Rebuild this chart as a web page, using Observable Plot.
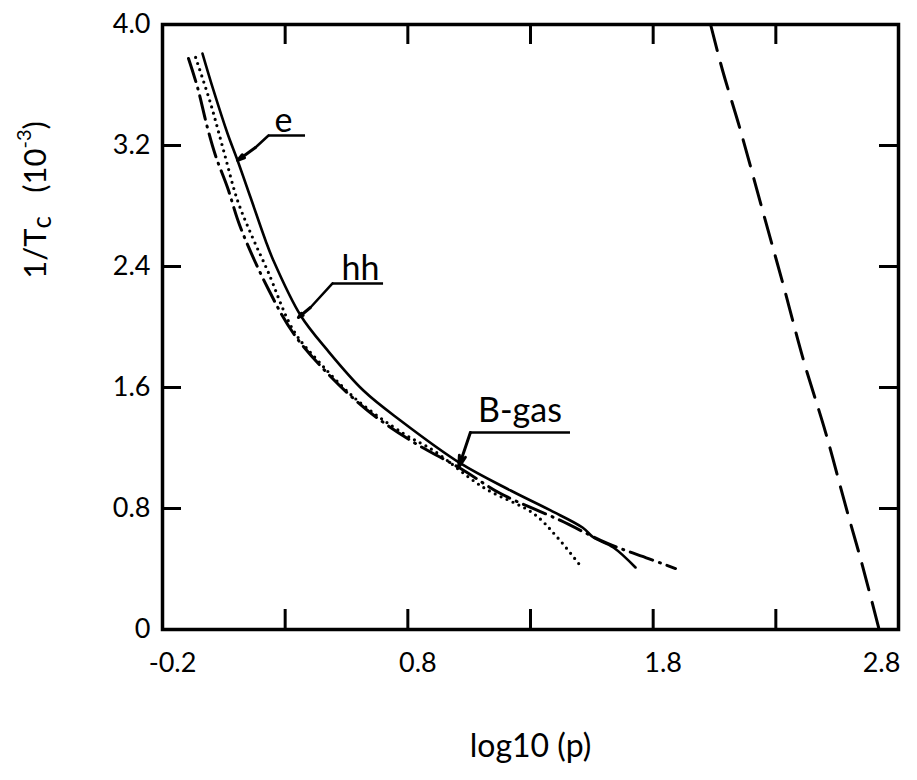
<!DOCTYPE html>
<html>
<head>
<meta charset="utf-8">
<script src="https://cdn.jsdelivr.net/npm/d3@7"></script>
<script src="https://cdn.jsdelivr.net/npm/@observablehq/plot@0.6"></script>
<style>
  html, body { margin: 0; padding: 0; background: #fff; }
  #chart svg { display: block; }
</style>
</head>
<body>
<div id="chart"></div>
<script>
// ---- data ----
// curve "e" (solid)
const eX = [-0.037, 0.008, 0.065, 0.106, 0.159, 0.220, 0.252, 0.363, 0.473, 0.619, 0.770, 1.015, 1.219, 1.382, 1.512, 1.557, 1.638, 1.728];
const eY = [3.808, 3.564, 3.279, 3.101, 2.856, 2.572, 2.440, 2.076, 1.845, 1.580, 1.382, 1.098, 0.919, 0.787, 0.674, 0.608, 0.542, 0.410];
// curve "hh" (dotted)
const hhX = [-0.065, -0.004, 0.049, 0.106, 0.167, 0.228, 0.334, 0.444, 0.595, 0.782, 0.905, 1.108, 1.312, 1.410, 1.512];
const hhY = [3.782, 3.478, 3.167, 2.836, 2.592, 2.374, 1.977, 1.759, 1.514, 1.296, 1.183, 0.939, 0.767, 0.608, 0.403];
// curve "B-gas" (dash-dot)
const bX = [-0.094, -0.057, -0.017, 0.016, 0.065, 0.118, 0.228, 0.334, 0.473, 0.636, 0.811, 1.015, 1.178, 1.422, 1.614, 1.781, 1.891];
const bY = [3.775, 3.583, 3.319, 3.134, 2.922, 2.658, 2.261, 1.957, 1.693, 1.448, 1.250, 1.064, 0.899, 0.721, 0.569, 0.469, 0.403];
// right long-dashed curve
const rX = [2.034, 2.083, 2.156, 2.246, 2.331, 2.413, 2.503, 2.584, 2.653, 2.719];
const rY = [4.000, 3.696, 3.299, 2.770, 2.274, 1.779, 1.302, 0.820, 0.423, 0.013];

// axes
const xDomain = [-0.2, 2.8];
const yDomain = [0, 4.0];
const xTickValues = [-0.2, 0.8, 1.8, 2.8];
const xTickLabels = ["-0.2", "0.8", "1.8", "2.8"];
const yTickValues = [0, 0.8, 1.6, 2.4, 3.2, 4.0];
const yTickLabels = ["0", "0.8", "1.6", "2.4", "3.2", "4.0"];
const xInnerTicks = [0.3, 0.8, 1.3, 1.8, 2.3];
const yInnerTicks = [0.8, 1.6, 2.4, 3.2];
const xTitle = "log10 (p)";

// annotations: label, text position, leader polyline (underline end -> elbow -> tip), underline
const annLabels = ["e", "hh", "B-gas"];
const annTextX = [0.293, 0.607, 1.257];
const annTextY = [3.36, 2.385, 1.445];
const annUnderX1 = [0.232, 0.493, 1.055];
const annUnderX2 = [0.383, 0.701, 1.463];
const annUnderY = [3.266, 2.288, 1.302];
const annElbowX = [0.179, 0.403, null];
const annElbowY = [3.187, 2.129, null];
const annTipX = [0.106, 0.354, 1.007];
const annTipY = [3.101, 2.063, 1.071];

// ---- build tables ----
const toPts = (xs, ys) => xs.map((x, i) => ({x, y: ys[i]}));
const ePts = toPts(eX, eY), hhPts = toPts(hhX, hhY), bPts = toPts(bX, bY), rPts = toPts(rX, rY);
const annText = annLabels.map((t, i) => ({t, x: annTextX[i], y: annTextY[i]}));
const underlines = annLabels.map((t, i) => ({x1: annUnderX1[i], x2: annUnderX2[i], y: annUnderY[i]}));
const leaders = annLabels.map((t, i) => {
  const pts = [{x: annUnderX1[i], y: annUnderY[i]}];
  if (annElbowX[i] != null) pts.push({x: annElbowX[i], y: annElbowY[i]});
  pts.push({x: annTipX[i], y: annTipY[i]});
  return pts;
});
const leaderBodies = leaders.map(p => p.slice(0, -1));
const leaderHeads = leaders.map(p => ({x1: p[p.length - 2].x, y1: p[p.length - 2].y, x2: p[p.length - 1].x, y2: p[p.length - 1].y}));
const xTickTable = xTickValues.map((v, i) => ({v, label: xTickLabels[i]}));

const W = 917, H = 780;
const mL = 162, mR = 19, mT = 24, mB = 151;
const kx = (W - mL - mR) / (xDomain[1] - xDomain[0]); // px per x unit
const ky = (H - mT - mB) / (yDomain[1] - yDomain[0]); // px per y unit
const tickLenX = 20 / ky, tickLenY = 19 / kx;

const font = "Lato, 'Open Sans', 'DejaVu Sans', sans-serif";

const plot = Plot.plot({
  width: W, height: H,
  marginLeft: mL, marginRight: mR, marginTop: mT, marginBottom: mB,
  style: {fontFamily: font, fontSize: "27px", color: "#000", background: "#fff", overflow: "visible"},
  x: {domain: xDomain, axis: null},
  y: {domain: yDomain, ticks: yTickValues, tickFormat: (d, i) => yTickLabels[i], tickSize: 0, tickPadding: 12, label: null},
  marks: [
    // inward ticks
    Plot.ruleX(xInnerTicks, {x: d => d, y1: 0, y2: tickLenX, stroke: "#000", strokeWidth: 3}),
    Plot.ruleX(xInnerTicks, {x: d => d, y1: 4.0, y2: 4.0 - tickLenX, stroke: "#000", strokeWidth: 3}),
    Plot.ruleY(yInnerTicks, {y: d => d, x1: xDomain[0], x2: xDomain[0] + tickLenY, stroke: "#000", strokeWidth: 3}),
    Plot.ruleY(yInnerTicks, {y: d => d, x1: xDomain[1], x2: xDomain[1] - tickLenY, stroke: "#000", strokeWidth: 3}),
    Plot.frame({stroke: "#000", strokeWidth: 3.5}),
    // x tick labels (through the x scale)
    Plot.text(xTickTable.slice(0, 3), {x: "v", text: "label", frameAnchor: "bottom", dy: 34, dx: 10, fontSize: 27, fill: "#000", lineAnchor: "middle"}),
    Plot.text(xTickTable.slice(3), {x: "v", text: "label", frameAnchor: "bottom", dy: 34, dx: -17, fontSize: 27, fill: "#000", lineAnchor: "middle"}),
    // curves
    Plot.line(bPts, {x: "x", y: "y", stroke: "#000", strokeWidth: 3, strokeDasharray: "24 7 1 7", strokeLinecap: "round", curve: "catmull-rom"}),
    Plot.line(hhPts, {x: "x", y: "y", stroke: "#000", strokeWidth: 3.2, strokeDasharray: "0 6.5", strokeLinecap: "round", curve: "catmull-rom"}),
    Plot.line(ePts, {x: "x", y: "y", stroke: "#000", strokeWidth: 2.6, curve: "catmull-rom"}),
    Plot.line(rPts, {x: "x", y: "y", stroke: "#000", strokeWidth: 3, strokeDasharray: "27 13", curve: "catmull-rom"}),
    // annotations
    Plot.ruleY(underlines, {x1: "x1", x2: "x2", y: "y", stroke: "#000", strokeWidth: 2.5}),
    ...leaderBodies.map(p => Plot.line(p, {x: "x", y: "y", stroke: "#000", strokeWidth: 2.5})),
    Plot.arrow(leaderHeads, {x1: "x1", y1: "y1", x2: "x2", y2: "y2", stroke: "#000", strokeWidth: 3, headLength: 14, headAngle: 30}),
    Plot.text(annText, {x: "x", y: "y", text: "t", fontSize: 34, fill: "#000", textAnchor: "middle", lineAnchor: "middle"}),
    // x title
    Plot.text([xTitle], {frameAnchor: "bottom", dy: 117, text: d => d, fontSize: 32, fill: "#000", lineAnchor: "middle"})
  ]
});

document.getElementById("chart").appendChild(plot);

// y title with subscript and superscript (real text)
const svg = d3.select(plot);
const t = svg.append("text")
  .attr("transform", "translate(38,200) rotate(-90)")
  .attr("text-anchor", "middle")
  .attr("dominant-baseline", "middle")
  .attr("font-family", font)
  .attr("font-size", 31)
  .attr("fill", "#000");
t.append("tspan").text("1/T");
t.append("tspan").attr("dy", 6).attr("font-size", 26).text("c");
t.append("tspan").attr("dy", -6).text("\u2003(10");
t.append("tspan").attr("dy", -12).attr("font-size", 20).text("-3");
t.append("tspan").attr("dy", 12).text(")");
</script>
</body>
</html>
